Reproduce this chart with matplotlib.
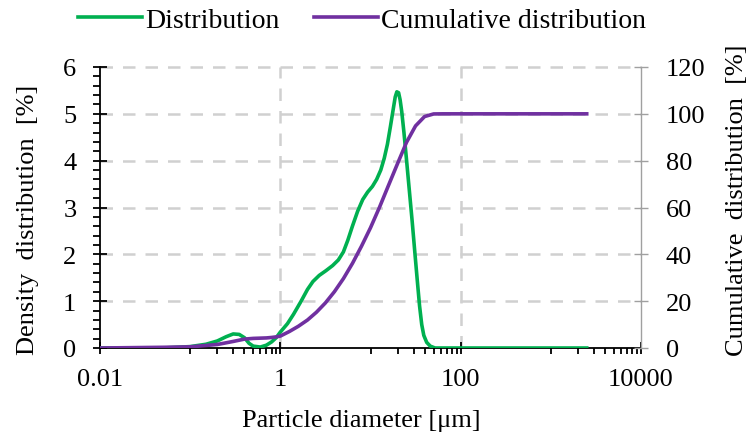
import matplotlib
matplotlib.use("Agg")
import matplotlib.pyplot as plt
from matplotlib.ticker import FixedLocator, NullFormatter

plt.rcParams['font.family'] = ['Liberation Serif', 'DejaVu Serif']

# Distribution (density, %)
dist_d = [0.01, 0.05, 0.1, 0.15, 0.2, 0.25, 0.3, 0.35, 0.4, 0.45, 0.5, 0.6, 0.7, 0.8, 0.9,
          1.0, 1.2, 1.4, 1.7, 2.0, 2.3, 2.7, 3.2, 3.8, 4.4, 5.0, 5.6, 6.3, 7.2, 8.2, 9.3,
          10.5, 11.7, 13, 14.2, 15.4, 16.6, 17.8, 18.8, 19.6, 20.5, 21.3, 22.2, 23.5, 25,
          27, 29, 31, 33, 35, 37, 39, 42, 46, 52, 2500]
dist_v = [0.0, 0.0, 0.03, 0.08, 0.15, 0.24, 0.30, 0.29, 0.22, 0.10, 0.04, 0.02, 0.06, 0.13, 0.22,
          0.34, 0.52, 0.72, 1.0, 1.25, 1.42, 1.55, 1.65, 1.76, 1.88, 2.05, 2.3, 2.6, 2.92, 3.17, 3.33,
          3.45, 3.6, 3.8, 4.05, 4.35, 4.72, 5.08, 5.36, 5.47, 5.45, 5.3, 5.05, 4.6, 4.05,
          3.35, 2.7, 2.05, 1.45, 0.9, 0.5, 0.27, 0.12, 0.04, 0.0, 0.0]

# Cumulative distribution (%)
cum_d = [0.01, 0.05, 0.1, 0.2, 0.3, 0.4, 0.5, 0.7, 0.8, 0.9, 1.0, 1.26, 1.58, 2.0, 2.51, 3.16,
         3.98, 5.01, 6.31, 7.94, 10, 12.6, 15.8, 20, 25.1, 31.6, 39.8, 50.1, 63, 2500]
cum_v = [0, 0.3, 0.5, 1.5, 2.8, 3.8, 4.1, 4.3, 4.5, 4.75, 5.1, 7.05, 9.25, 11.95, 15.25, 19.25,
         24.05, 29.65, 36.15, 43.45, 51.35, 60.15, 69.35, 78.85, 87.85, 94.85, 98.85, 99.95, 100, 100]

x_major = [0.01, 1, 100, 10000]
x_labels = ['0.01', '1', '100', '10000']
y_left_ticks = [0, 1, 2, 3, 4, 5, 6]
y_right_ticks = [0, 20, 40, 60, 80, 100, 120]

GREEN = '#00B050'
PURPLE = '#7030A0'
GRID = '#D0D0D0'
FS = 19

fig = plt.figure(figsize=(7.53, 4.39), dpi=100)
ax = fig.add_axes([100/753, 1-349/439, 541/753, 281/439])
ax2 = ax.twinx()

ax.set_xscale('log')
ax.set_xlim(0.01, 10000)
ax.set_ylim(0, 6)
ax2.set_ylim(0, 120)

# grid
for xv in [1, 100]:
    ax.axvline(xv, color=GRID, lw=1.8, ls=(0, (5, 4)), zorder=0)
for yv in [1, 2, 3, 4, 5, 6]:
    ax.axhline(yv, color=GRID, lw=1.8, ls=(0, (5, 4)), zorder=0, clip_on=False)

l1, = ax.plot(dist_d, dist_v, color=GREEN, lw=2.6, label='Distribution', zorder=3,
              solid_joinstyle='round')
l2, = ax2.plot(cum_d, cum_v, color=PURPLE, lw=2.6, label='Cumulative distribution', zorder=3,
               solid_joinstyle='round')

# x ticks
ax.xaxis.set_major_locator(FixedLocator(x_major))
ax.set_xticklabels(x_labels)
minors = []
for base in [0.01, 1, 100]:
    for k in range(1, 10):
        minors.append(base * 10 * k)
minors = [m for m in minors if m not in x_major]
ax.xaxis.set_minor_locator(FixedLocator(minors))
ax.xaxis.set_minor_formatter(NullFormatter())
ax.tick_params(axis='x', which='major', direction='inout', length=9, width=1.3, labelsize=FS, pad=10)
ax.tick_params(axis='x', which='minor', direction='out', length=4, width=1.3)

# left y ticks
ax.set_yticks(y_left_ticks)
ax.yaxis.set_minor_locator(FixedLocator([i * 0.2 for i in range(31)]))
ax.tick_params(axis='y', which='major', direction='inout', length=10, width=1.3, labelsize=FS, pad=12)
ax.tick_params(axis='y', which='minor', direction='out', length=5, width=1.3)

# right y ticks
ax2.set_yticks(y_right_ticks)
ax2.tick_params(axis='y', which='major', direction='inout', length=10, width=1.0,
                color='#A0A0A0', labelsize=FS, pad=13)

for a in (ax, ax2):
    a.spines['top'].set_visible(False)
ax.spines['left'].set_linewidth(1.3)
ax.spines['bottom'].set_linewidth(1.3)
ax.spines['right'].set_visible(False)
ax2.spines['left'].set_visible(False)
ax2.spines['bottom'].set_visible(False)
ax2.spines['right'].set_color('#A0A0A0')
ax2.spines['right'].set_linewidth(1.0)

fig.text(361/753, 1-421/439, 'Particle diameter [\u03bcm]', fontsize=FS, ha='center', va='center')
fig.text(28/753, 1-220/439, 'Density  distribution  [%]', fontsize=FS, ha='center', va='center', rotation=90)
fig.text(737/753, 1-200/439, 'Cumulative  distribution  [%]', fontsize=FS, ha='center', va='center', rotation=90)

fig.legend(handles=[l1, l2], loc='center', bbox_to_anchor=(362/753, 1-21/439), ncol=2,
           frameon=False, fontsize=20, handlelength=2.3, handletextpad=0.1, columnspacing=1.25,
           borderpad=0, borderaxespad=0)

fig.savefig('out.png', dpi=100)
